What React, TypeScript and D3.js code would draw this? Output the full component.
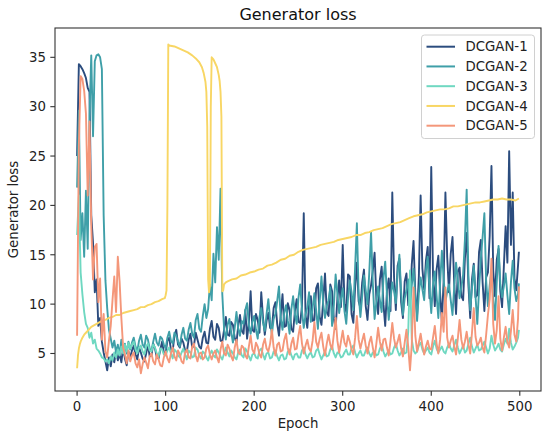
import React from "react";
import * as d3 from "d3";

// ---- data ----
const seriesNames = ["DCGAN-1", "DCGAN-2", "DCGAN-3", "DCGAN-4", "DCGAN-5"];
const seriesColors = ["#2b4c7e", "#3f9fa8", "#6fd8c1", "#f8d664", "#f4977a"];

// shared epoch grid for the noisy series: 0..498 step 2, then 499
const epochs: number[] = d3.range(0, 500, 2).concat([499]);

const dcgan1 = [
  25.0, 34.3, 34.1, 33.8, 33.4, 32.9, 31.9, 31.5, 19.0, 16.2, 11.2, 12.5, 7.8, 8.6, 6.2,
  5.1, 4.2, 3.3, 4.6, 3.7, 4.9, 4.1, 5.3, 4.3, 5.0, 4.1, 5.6, 4.5, 3.8, 5.2,
  4.6, 5.3, 5.8, 4.9, 4.4, 5.6, 5.1, 4.5, 4.2, 5.0, 5.9, 4.7, 4.8, 6.0, 5.5, 4.6, 4.5, 5.4, 6.2, 5.1,
  5.0, 6.3, 6.6, 5.4, 5.3, 6.8, 7.4, 5.9, 5.6, 6.5, 6.1, 5.3, 5.2, 6.4, 7.0, 5.6, 5.8, 7.1, 6.4, 5.7,
  5.5, 6.6, 7.2, 6.1, 6.0, 7.5, 8.3, 6.7, 6.4, 8.0, 7.6, 6.3, 6.2, 7.4, 8.7, 6.9, 6.8, 8.2, 7.9, 6.6,
  6.1, 7.8, 8.9, 7.3, 7.0, 9.4, 6.5, 8.1, 11.3, 7.4, 7.2, 9.0, 8.4, 7.1, 11.2, 8.6, 6.9, 8.3, 9.1, 7.6,
  7.5, 9.6, 10.2, 8.0, 6.8, 8.9, 11.0, 7.7, 7.8, 10.1, 9.4, 7.5, 7.2, 9.3, 10.5, 8.2, 8.1, 9.8, 19.2, 8.9,
  7.6, 9.9, 10.8, 8.3, 8.4, 11.6, 12.1, 8.7, 7.9, 10.4, 13.1, 9.2, 8.8, 12.0, 11.3, 8.5, 7.5, 10.6, 12.4, 9.7,
  16.0, 10.1, 9.2, 13.0, 12.8, 9.0, 8.1, 11.7, 14.2, 10.3, 9.6, 12.2, 13.5, 9.8, 8.4, 11.0, 11.9, 13.4, 15.2, 10.5,
  9.0, 12.5, 13.8, 10.0, 7.8, 11.4, 12.6, 9.3, 21.3, 12.7, 9.4, 13.9, 14.6, 10.2, 8.6, 12.3, 13.1, 9.9, 10.2, 14.0,
  16.4, 11.0, 8.9, 12.8, 21.0, 13.6, 11.5, 14.4, 15.8, 10.6, 23.9, 12.9, 9.8, 13.5, 14.9, 11.1, 8.2, 12.4, 21.3, 14.8,
  11.2, 15.1, 16.8, 12.0, 9.0, 13.3, 13.7, 10.8, 10.4, 14.6, 17.2, 11.9, 8.6, 12.5, 14.1, 10.7, 10.9, 15.3, 16.5, 12.2,
  9.3, 12.7, 13.2, 16.9, 24.0, 13.4, 10.8, 14.5, 15.6, 11.3, 9.7, 13.8, 17.9, 14.2, 25.5, 16.0, 21.3, 12.6, 11.4, 13.9,
  15.3,
];

const dcgan2 = [
  21.8, 29.6, 16.5, 19.2, 14.8, 21.5, 15.6, 29.0, 35.2, 27.0, 34.6, 35.2, 35.3, 35.0, 33.8,
  19.0, 12.4, 9.6, 7.4, 6.5, 5.6, 6.3, 5.1, 5.9, 4.9, 6.4, 5.3, 6.0, 5.0, 6.2,
  5.4, 6.1, 6.6, 5.7, 5.2, 6.3, 6.9, 5.9, 5.6, 6.8, 6.4, 5.5, 5.3, 6.2, 7.0, 6.1, 5.8, 6.7, 6.5, 5.9,
  5.5, 6.6, 7.2, 6.3, 6.0, 7.1, 6.8, 6.2, 5.7, 6.9, 7.6, 6.5, 6.3, 7.4, 8.1, 7.0, 6.6, 8.4, 9.0, 7.5,
  7.2, 8.8, 10.0, 8.6, 9.5, 12.0, 10.4, 15.1, 12.2, 17.8, 14.5, 21.7, 11.0, 7.5, 6.4, 7.9, 8.5, 7.2, 6.1, 7.6,
  9.2, 7.5, 6.8, 8.3, 8.0, 9.4, 10.1, 7.9, 7.0, 8.2, 8.8, 7.4, 6.5, 8.7, 9.6, 8.1, 7.3, 9.0, 10.5, 8.4,
  6.9, 8.5, 9.0, 10.3, 11.8, 8.6, 7.4, 9.1, 9.9, 8.3, 7.0, 9.5, 10.8, 9.0, 8.0, 10.6, 12.0, 9.3, 7.6, 8.9,
  9.7, 11.2, 8.2, 9.6, 11.1, 9.4, 7.5, 10.3, 12.8, 10.0, 8.6, 9.8, 10.4, 11.7, 7.8, 9.9, 13.0, 11.0, 9.1, 10.5,
  11.6, 9.3, 8.0, 10.6, 12.4, 11.2, 9.4, 13.7, 18.2, 11.0, 8.7, 10.8, 12.9, 11.4, 10.0, 13.2, 17.3, 12.1, 8.5, 10.2,
  11.8, 10.4, 9.2, 12.6, 14.3, 10.9, 8.4, 10.5, 12.2, 11.3, 10.1, 13.1, 15.0, 11.2, 8.9, 10.6, 11.4, 12.5, 9.8, 11.9,
  13.6, 10.8, 8.3, 11.1, 12.7, 11.5, 10.4, 13.4, 14.8, 11.7, 9.1, 12.0, 13.3, 10.9, 8.6, 12.1, 15.4, 12.6, 10.2, 11.3,
  12.0, 10.4, 8.9, 11.8, 14.2, 12.4, 10.6, 11.7, 13.0, 16.5, 21.6, 12.8, 9.4, 11.6, 13.9, 10.8, 8.0, 11.5, 14.6, 16.8,
  19.2, 12.4, 9.8, 11.9, 13.5, 10.6, 8.4, 12.3, 15.9, 12.1, 10.7, 11.8, 13.1, 10.9, 9.0, 12.2, 14.4, 11.6, 10.3, 11.0,
  12.1,
];

const dcgan3 = [
  17.0, 21.0, 13.2, 11.0, 9.2, 8.0, 7.6, 6.6, 7.1, 6.0, 6.4, 5.5, 5.3, 5.0, 4.6,
  4.5, 4.2, 4.4, 4.0, 4.7, 4.3, 5.1, 4.6, 5.4, 4.8, 5.7, 5.0, 5.9, 5.2, 6.1,
  5.5, 5.9, 6.2, 5.4, 5.0, 5.6, 5.8, 5.2, 4.9, 5.7, 6.0, 5.3, 5.2, 5.9, 5.6, 5.0, 4.7, 5.5, 5.4, 4.9,
  4.8, 5.3, 5.6, 5.0, 4.5, 5.4, 5.2, 4.8, 4.6, 5.1, 5.5, 4.9, 4.4, 5.3, 5.1, 4.6, 4.7, 5.6, 5.4, 4.8,
  4.5, 5.2, 5.0, 4.6, 4.3, 4.9, 5.3, 4.8, 4.6, 5.4, 5.1, 4.7, 4.4, 5.0, 5.6, 5.1, 4.7, 5.3, 5.0, 4.6,
  4.4, 5.1, 5.4, 4.8, 4.6, 5.5, 5.2, 4.7, 4.3, 4.9, 5.0, 4.6, 4.5, 5.3, 5.5, 4.9, 4.4, 5.0, 5.1, 4.5,
  4.6, 5.2, 5.3, 4.7, 4.3, 4.8, 4.9, 4.4, 4.5, 5.2, 5.4, 4.8, 4.4, 4.9, 5.0, 4.6, 4.6, 5.3, 5.6, 4.9,
  4.5, 4.9, 5.1, 4.6, 4.7, 5.3, 5.5, 4.9, 4.4, 4.8, 5.2, 4.7, 4.8, 5.4, 5.7, 5.0, 4.6, 5.1, 5.0, 4.6,
  4.7, 5.1, 5.4, 4.9, 4.9, 5.5, 5.8, 5.1, 4.6, 5.0, 5.3, 4.8, 4.8, 5.3, 5.6, 5.0, 4.7, 5.1, 5.2, 4.8,
  4.9, 5.5, 5.9, 5.2, 4.7, 5.0, 5.3, 4.9, 5.0, 5.6, 6.0, 5.3, 4.8, 5.1, 5.5, 5.0, 5.1, 7.2, 13.4, 6.4,
  5.3, 5.0, 5.2, 5.8, 6.1, 5.4, 5.0, 5.3, 5.6, 5.1, 4.9, 5.7, 6.3, 5.5, 5.1, 5.4, 5.7, 5.2, 5.0, 5.6,
  6.0, 5.5, 5.2, 5.8, 6.4, 5.6, 5.0, 5.4, 5.8, 5.1, 5.3, 6.0, 6.6, 5.7, 5.1, 5.5, 5.9, 5.3, 5.4, 5.8,
  6.2, 5.6, 5.0, 5.5, 6.8, 5.9, 5.3, 5.6, 6.0, 5.4, 5.2, 5.9, 6.5, 6.0, 7.5, 6.1, 5.4, 5.7, 6.1, 6.6,
  7.4,
];

const dcgan5 = [
  6.8, 26.0, 33.1, 32.8, 31.6, 29.3, 21.0, 28.5, 18.0, 12.5, 15.8, 16.1, 10.2, 12.6, 6.4,
  9.0, 5.2, 4.6, 6.3, 7.8, 10.4, 12.8, 9.2, 14.8, 12.3, 8.6, 5.6, 4.9, 4.0, 5.3,
  4.2, 4.8, 5.1, 4.0, 3.6, 4.4, 3.0, 3.9, 4.6, 4.1, 3.5, 4.7, 5.0, 4.2, 3.9, 4.9, 4.4, 3.8, 3.7, 4.6,
  5.2, 4.5, 4.1, 5.0, 5.6, 4.7, 4.3, 5.3, 4.9, 4.2, 4.0, 5.1, 5.4, 4.6, 4.5, 5.7, 6.0, 4.8, 4.2, 5.0,
  5.1, 4.4, 4.6, 5.5, 5.8, 4.9, 4.4, 5.0, 5.3, 4.6, 4.1, 5.4, 6.2, 5.0, 4.8, 5.9, 5.5, 4.7, 4.3, 5.6,
  6.4, 5.1, 4.9, 5.8, 5.6, 4.8, 4.5, 5.7, 6.8, 5.4, 5.0, 6.1, 5.7, 4.9, 4.6, 5.9, 6.5, 5.5, 5.2, 6.0,
  7.4, 5.6, 4.8, 5.9, 6.1, 5.2, 5.3, 6.4, 7.0, 5.5, 4.9, 6.0, 6.6, 5.4, 5.5, 6.8, 7.8, 6.0, 5.0, 5.8,
  6.4, 5.5, 5.2, 6.3, 8.2, 6.2, 5.6, 6.5, 7.1, 5.7, 4.8, 6.0, 6.9, 5.9, 5.4, 7.0, 8.6, 6.3, 5.1, 6.2,
  7.3, 6.1, 5.7, 6.8, 6.2, 5.4, 4.9, 6.6, 8.8, 6.4, 5.5, 6.3, 7.0, 5.8, 5.0, 6.1, 6.7, 5.6, 4.6, 6.0,
  7.6, 6.2, 5.3, 6.4, 6.5, 5.6, 4.8, 6.3, 8.1, 6.5, 5.6, 6.2, 6.9, 5.5, 4.7, 6.1, 7.4, 5.7, 3.3, 5.9,
  11.7, 6.8, 5.2, 6.1, 7.0, 5.8, 4.9, 5.7, 6.3, 5.5, 5.4, 6.6, 7.8, 6.0, 5.0, 6.4, 9.1, 7.2, 11.7, 6.6,
  5.6, 6.3, 6.8, 5.7, 4.9, 6.5, 8.4, 6.4, 5.5, 6.2, 7.2, 5.9, 5.0, 7.1, 9.6, 6.7, 5.8, 6.1, 6.6, 5.6,
  5.1, 6.9, 8.9, 10.5, 14.6, 8.0, 6.0, 7.4, 10.8, 6.5, 5.3, 6.6, 7.7, 6.2, 5.6, 7.3, 9.4, 6.9, 6.2, 8.5,
  11.8,
];

// DCGAN-4 has its own epoch grid (sharp jumps)
const dcgan4Epochs = [
  0, 1, 2, 3, 4, 6, 8, 10, 13, 16, 20, 24, 28, 32, 36, 40, 44, 48, 52, 56, 60, 64, 68, 72, 76,
  80, 84, 88, 92, 96, 99, 100, 101, 102, 103, 104, 110, 115, 120, 125, 130, 135, 138, 141, 143,
  145, 146, 147, 148, 149, 150, 151, 152, 154, 156, 158, 160, 161, 162, 163, 164, 165, 166, 168,
  170, 175, 180, 185, 190, 195, 200, 205, 210, 215, 220, 225, 230, 235, 240, 245, 250, 255, 260,
  265, 270, 275, 280, 285, 290, 295, 300, 305, 310, 315, 320, 325, 330, 335, 340, 345, 350, 355,
  360, 365, 370, 375, 380, 385, 390, 395, 400, 405, 410, 415, 420, 425, 430, 435, 440, 445, 450,
  455, 460, 465, 470, 475, 480, 485, 490, 495, 499,
];
const dcgan4 = [
  3.5, 4.8, 5.5, 5.9, 6.2, 6.6, 6.9, 7.1, 7.4, 7.7, 7.9, 8.1, 8.3, 8.4, 8.6, 8.7, 8.9, 8.9, 9.1,
  9.2, 9.3, 9.4, 9.5, 9.7, 9.7, 9.9, 10.0, 10.2, 10.3, 10.5, 10.6, 10.9, 11.4, 20.0, 36.3, 36.2,
  36.1, 35.9, 35.7, 35.5, 35.2, 34.8, 34.5, 34.0, 33.4, 32.5, 31.5, 28.0, 12.5, 11.2, 11.8, 30.0,
  35.0, 34.8, 34.4, 34.0, 33.2, 32.6, 31.5, 29.0, 11.3, 11.4, 12.0, 12.2,
  12.3, 12.5, 12.6, 12.9, 13.0, 13.2, 13.3, 13.5, 13.6, 13.9, 14.0, 14.2, 14.5, 14.6, 14.9, 15.0,
  15.3, 15.5, 15.6, 15.7, 15.8, 16.0, 16.1, 16.2, 16.3, 16.5, 16.6, 16.7, 16.8, 17.0, 17.0, 17.2,
  17.3, 17.5, 17.6, 17.7, 17.9, 18.1, 18.2, 18.3, 18.5, 18.7, 18.9, 19.0, 19.1, 19.3, 19.4, 19.5,
  19.6, 19.6, 19.7, 19.9, 19.9, 20.0, 20.1, 20.2, 20.3, 20.3, 20.4, 20.5, 20.6, 20.6, 20.7, 20.6,
  20.6, 20.5, 20.7,
];

const xTicks = [0, 100, 200, 300, 400, 500];
const yTicks = [5, 10, 15, 20, 25, 30, 35];

// ---- layout ----
const W = 550, H = 440;
const L = 55, R = 541, T = 28, B = 391;
const FONT = "DejaVu Sans, Verdana, sans-serif";

export default function App() {
  const x = d3.scaleLinear().domain([-24.95, 523.95]).range([L, R]);
  const y = d3.scaleLinear().domain([1.2, 37.97]).range([B, T]);
  const line = d3
    .line<[number, number]>()
    .defined((d) => Number.isFinite(d[1]))
    .x((d) => x(d[0]))
    .y((d) => y(d[1]));

  const series: { name: string; color: string; pts: [number, number][] }[] = [
    { name: seriesNames[0], color: seriesColors[0], pts: epochs.map((e, i) => [e, dcgan1[i]]) },
    { name: seriesNames[1], color: seriesColors[1], pts: epochs.map((e, i) => [e, dcgan2[i]]) },
    { name: seriesNames[2], color: seriesColors[2], pts: epochs.map((e, i) => [e, dcgan3[i]]) },
    { name: seriesNames[3], color: seriesColors[3], pts: dcgan4Epochs.map((e, i) => [e, dcgan4[i]]) },
    { name: seriesNames[4], color: seriesColors[4], pts: epochs.map((e, i) => [e, dcgan5[i]]) },
  ];

  const legX = 421.5, legY = 35, legW = 113, legH = 103.5;
  const rowY0 = 46.7, rowStep = 19.75;

  return (
    <svg
      width={W}
      height={H}
      style={{ position: "absolute", left: 0, top: 0, background: "#fff" }}
      fontFamily={FONT}
    >
      <rect x={0} y={0} width={W} height={H} fill="#fff" />
      {series.map((s) => (
        <path
          key={s.name}
          d={line(s.pts) || ""}
          fill="none"
          stroke={s.color}
          strokeWidth={1.9}
          strokeLinejoin="round"
        />
      ))}
      {/* axes frame */}
      <rect x={L} y={T} width={R - L} height={B - T} fill="none" stroke="#333" strokeWidth={1.1} />
      {xTicks.map((t) => (
        <g key={"x" + t}>
          <line x1={x(t)} x2={x(t)} y1={B} y2={B + 4.7} stroke="#333" strokeWidth={1.1} />
          <text x={x(t)} y={B + 9.4} dy="0.76em" textAnchor="middle" fontSize={13.3} fill="#222">
            {t}
          </text>
        </g>
      ))}
      {yTicks.map((t) => (
        <g key={"y" + t}>
          <line x1={L - 4.7} x2={L} y1={y(t)} y2={y(t)} stroke="#333" strokeWidth={1.1} />
          <text x={L - 9} y={y(t)} dy="0.36em" textAnchor="end" fontSize={13.3} fill="#222">
            {t}
          </text>
        </g>
      ))}
      <text x={(L + R) / 2} y={20} textAnchor="middle" fontSize={16} fill="#111">
        Generator loss
      </text>
      <text x={(L + R) / 2} y={428} textAnchor="middle" fontSize={13.3} fill="#222">
        Epoch
      </text>
      <text
        transform={`translate(18, ${(T + B) / 2}) rotate(-90)`}
        textAnchor="middle"
        fontSize={13.3}
        fill="#222"
      >
        Generator loss
      </text>
      {/* legend */}
      <rect
        x={legX}
        y={legY}
        width={legW}
        height={legH}
        rx={3}
        fill="#fff"
        fillOpacity={0.8}
        stroke="#d0d0d0"
        strokeWidth={1}
      />
      {series.map((s, i) => (
        <g key={"leg" + s.name}>
          <line
            x1={426.5}
            x2={455}
            y1={rowY0 + i * rowStep}
            y2={rowY0 + i * rowStep}
            stroke={s.color}
            strokeWidth={2}
          />
          <text x={465.5} y={rowY0 + i * rowStep} dy="0.36em" fontSize={13.3} fill="#222">
            {s.name}
          </text>
        </g>
      ))}
    </svg>
  );
}
